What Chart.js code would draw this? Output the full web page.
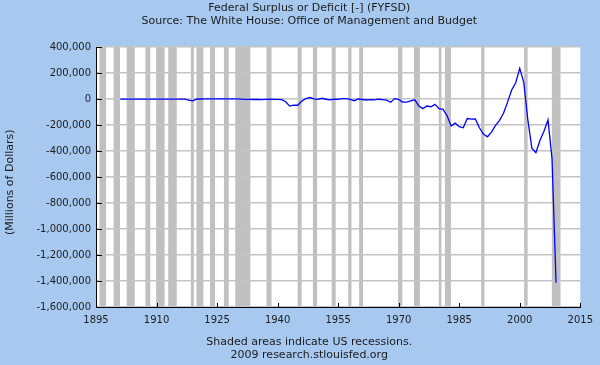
<!DOCTYPE html>
<html>
<head>
<meta charset="utf-8">
<script src="https://cdn.jsdelivr.net/npm/chart.js@4"></script>
<style>
  html, body { margin: 0; padding: 0; background: #a7c9f0; }
  #wrap { width: 600px; height: 365px; }
</style>
</head>
<body>
<div id="wrap"><canvas id="deficitChart" width="600" height="365"></canvas></div>
<script>
// Federal surplus or deficit, millions of dollars, fiscal years
const years = [
    1901, 1902, 1903, 1904, 1905, 1906, 1907, 1908, 1909, 1910,
    1911, 1912, 1913, 1914, 1915, 1916, 1917, 1918, 1919, 1920,
    1921, 1922, 1923, 1924, 1925, 1926, 1927, 1928, 1929, 1930,
    1931, 1932, 1933, 1934, 1935, 1936, 1937, 1938, 1939, 1940,
    1941, 1942, 1943, 1944, 1945, 1946, 1947, 1948, 1949, 1950,
    1951, 1952, 1953, 1954, 1955, 1956, 1957, 1958, 1959, 1960,
    1961, 1962, 1963, 1964, 1965, 1966, 1967, 1968, 1969, 1970,
    1971, 1972, 1973, 1974, 1975, 1976, 1977, 1978, 1979, 1980,
    1981, 1982, 1983, 1984, 1985, 1986, 1987, 1988, 1989, 1990,
    1991, 1992, 1993, 1994, 1995, 1996, 1997, 1998, 1999, 2000,
    2001, 2002, 2003, 2004, 2005, 2006, 2007, 2008, 2009
];
const surplus = [
    63, 77, 45, -43, -23, 25, 87, -57, -89, -18,
    11, 3, 0, 0, -63, 48, -853, -9032, -13363, 291,
    509, 736, 713, 963, 717, 865, 1155, 939, 734, 738,
    -462, -2735, -2602, -3586, -2803, -4304, -2193, -89, -2846, -2920,
    -4941, -20503, -54554, -47557, -47553, -15936, 4018, 11796, 580, -3119,
    6102, -1519, -6493, -1154, -2993, 3947, 3412, -2769, -12849, 301,
    -3335, -7146, -4756, -5915, -1411, -3698, -8643, -25161, 3242, -2842,
    -23033, -23373, -14908, -6135, -53242, -73732, -53659, -59185, -40726, -73830,
    -78968, -127977, -207802, -185367, -212308, -221227, -149730, -155178, -152639, -221036,
    -269238, -290321, -255051, -203186, -163952, -107431, -21884, 69270, 125610, 236241,
    128236, -157758, -377585, -412727, -318346, -248181, -160701, -458553, -1412686
];

// US recessions (start, end) as decimal years
const recessionStart = [1895.85, 1899.35, 1902.6, 1907.25, 1909.9, 1912.9, 1918.5, 1919.9, 1923.25, 1926.7,
    1929.5, 1937.25, 1944.97, 1948.75, 1953.4, 1957.5, 1960.2, 1969.85, 1973.8, 1979.95,
    1981.45, 1990.45, 2001.1, 2007.95];
const recessionEnd = [1897.5, 1900.95, 1904.6, 1908.45, 1912.0, 1915.0, 1919.25, 1921.6, 1924.5, 1927.9,
    1933.25, 1938.5, 1945.95, 1949.8, 1954.4, 1958.3, 1961.15, 1970.9, 1975.25, 1980.6,
    1982.95, 1991.25, 2001.95, 2010.1];

const yMin = -1600000, yMax = 400000, yStep = 200000;
const xMin = 1895, xMax = 2015, xStep = 15;

const titleLines = ['Federal Surplus or Deficit [-] (FYFSD)', 'Source: The White House: Office of Management and Budget'];
const footLines = ['Shaded areas indicate US recessions.', '2009 research.stlouisfed.org'];
const yTitle = '(Millions of Dollars)   ';

const FONT = "'DejaVu Sans', Verdana, sans-serif";
const TEXT = '#1c1c1c';

// Background, plot area and recession shading
const backdrop = {
    id: 'backdrop',
    beforeDraw(chart) {
        const { ctx, chartArea: a, scales: { x } } = chart;
        ctx.save();
        ctx.fillStyle = '#a7c9f0';
        ctx.fillRect(0, 0, chart.width, chart.height);
        ctx.fillStyle = '#ffffff';
        ctx.fillRect(a.left, a.top, a.right - a.left, a.bottom - a.top);
        ctx.fillStyle = '#c0c0c0';
        recessionStart.forEach((s, i) => {
            const x0 = Math.max(a.left, x.getPixelForValue(s));
            const x1 = Math.min(a.right, x.getPixelForValue(recessionEnd[i]));
            ctx.fillRect(x0, a.top, x1 - x0, a.bottom - a.top);
        });
        ctx.restore();
    },
    afterDraw(chart) {
        // small inward tick marks
        const { ctx, chartArea: a, scales: { x, y } } = chart;
        ctx.save();
        ctx.strokeStyle = '#000000';
        ctx.lineWidth = 1;
        ctx.beginPath();
        y.ticks.forEach(t => {
            const py = Math.round(y.getPixelForValue(t.value)) + 0.5;
            ctx.moveTo(a.left, py);
            ctx.lineTo(a.left + 6, py);
        });
        x.ticks.forEach(t => {
            const px = Math.round(x.getPixelForValue(t.value)) + 0.5;
            ctx.moveTo(px, a.bottom);
            ctx.lineTo(px, a.bottom - 4);
        });
        ctx.stroke();
        ctx.restore();
    }
};

new Chart(document.getElementById('deficitChart'), {
    type: 'line',
    data: {
        datasets: [{
            label: 'FYFSD',
            data: years.map((yr, i) => ({ x: yr, y: surplus[i] })),
            borderColor: '#0000ff',
            borderWidth: 1.3,
            pointRadius: 0,
            tension: 0,
            fill: false
        }]
    },
    options: {
        responsive: false,
        animation: false,
        devicePixelRatio: 1,
        // left padding keeps the titles centred the way the original is
        layout: { padding: { left: 37, right: 18.5, top: 0, bottom: 0 } },
        plugins: {
            legend: { display: false },
            tooltip: { enabled: false },
            title: {
                display: true,
                text: titleLines,
                color: TEXT,
                font: { family: FONT, size: 11, weight: 'normal', lineHeight: 1.23 },
                padding: { top: 1, bottom: 19 }
            },
            subtitle: {
                display: true,
                position: 'bottom',
                text: footLines,
                color: TEXT,
                font: { family: FONT, size: 11, weight: 'normal', lineHeight: '13px' },
                padding: { top: 7, bottom: 3 }
            }
        },
        scales: {
            x: {
                type: 'linear',
                min: xMin,
                max: xMax,
                afterFit: s => { s.height = 22; },
                grid: { display: false, drawTicks: false },
                border: { display: true, color: '#000000', width: 1 },
                ticks: {
                    stepSize: xStep,
                    color: TEXT,
                    padding: 7,
                    maxRotation: 0,
                    font: { family: FONT, size: 10 },
                    callback: v => String(v)
                }
            },
            y: {
                min: yMin,
                max: yMax,
                afterFit: s => { s.width = 59; },
                grid: { color: '#c4c4c4', lineWidth: 1.5, drawTicks: false },
                border: { display: true, color: '#000000', width: 1 },
                ticks: {
                    stepSize: yStep,
                    color: TEXT,
                    padding: 5,
                    font: { family: FONT, size: 10 },
                    callback: v => v.toLocaleString('en-US')
                },
                title: {
                    display: true,
                    text: yTitle,
                    color: TEXT,
                    font: { family: FONT, size: 11 },
                    padding: { top: -33.6, bottom: 0 }
                }
            }
        }
    },
    plugins: [backdrop]
});
</script>
</body>
</html>
